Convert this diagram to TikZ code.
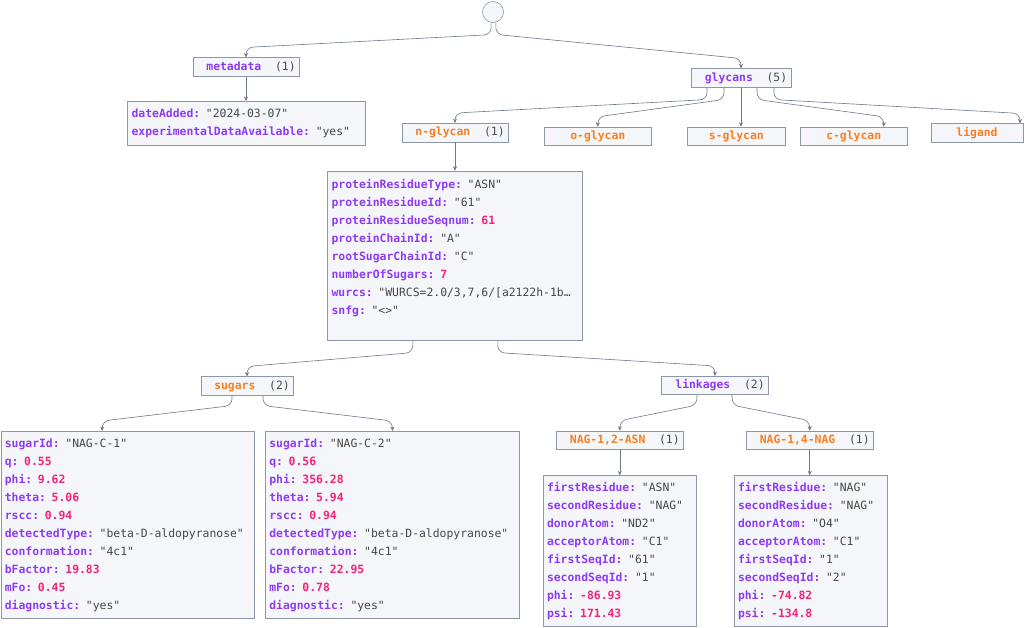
\documentclass[tikz,border=0pt]{standalone}
\usepackage{fontspec}
\setmonofont{DejaVu Sans Mono}
\usetikzlibrary{arrows.meta,positioning}

\definecolor{keyc}{HTML}{8E3BF2}
\definecolor{strc}{HTML}{474747}
\definecolor{numc}{HTML}{F2237A}
\definecolor{arrc}{HTML}{F77F21}
\definecolor{cntc}{HTML}{4A4A4A}
\definecolor{boxc}{HTML}{F4F6FA}
\definecolor{edgec}{HTML}{8D97A8}
\definecolor{linec}{HTML}{6E788C}

\newcommand{\strkey}[2]{\textcolor{keyc}{\bfseries #1:} \textcolor{strc}{"#2"}}
\newcommand{\numkey}[2]{\textcolor{keyc}{\bfseries #1:} \textcolor{numc}{\bfseries #2}}
\newcommand{\grouplabel}[3]{\hspace*{10pt}\textcolor{#1}{\bfseries #2}~~\textcolor{cntc}{(#3)}}

\tikzset{
  rootnode/.style={circle, draw=edgec, fill=boxc, minimum size=21pt, inner sep=0pt, line width=0.6pt},
  labelbox/.style={draw=edgec, fill=boxc, minimum height=18.5pt, inner sep=0pt, line width=0.6pt,
    text=arrc, font=\ttfamily\fontsize{11.4}{14}\selectfont},
  databox/.style={draw=edgec, fill=boxc, anchor=north west, align=left, inner xsep=4pt, inner ysep=0pt,
    line width=0.6pt, font=\ttfamily\fontsize{11.4}{18}\selectfont},
  link/.style={draw=linec, line width=0.6pt, rounded corners=7pt, -{Stealth[length=4.5pt, width=4pt]}}
}

\begin{document}
\begin{tikzpicture}[x=1pt, y=-1pt]
      \fill[white] (0,0) rectangle (1024,627);
      \useasboundingbox (0,0) rectangle (1024,627);

      % Nodes
      \node[rootnode] (root) at (493,12) {};
      \node[labelbox, minimum width=106pt] (metadata) at (246,67) {\grouplabel{keyc}{metadata}{1}};
      \node[labelbox, minimum width=100pt] (glycans) at (741,78) {\grouplabel{keyc}{glycans}{5}};
      \node[databox, text width=229.7pt, minimum height=44pt] (metainfo) at (127.3,101)
        {\strkey{dateAdded}{2024-03-07}\\ \strkey{experimentalDataAvailable}{yes}};

      \node[labelbox, minimum width=106pt] (nglycan) at (455,132.6) {\grouplabel{arrc}{n-glycan}{1}};
      \node[labelbox, minimum width=107.5pt] (oglycan) at (597.8,136.3) {\bfseries o-glycan};
      \node[labelbox, minimum width=98pt] (sglycan) at (736.3,136.3) {\bfseries s-glycan};
      \node[labelbox, minimum width=107.4pt] (cglycan) at (853.7,136.3) {\bfseries c-glycan};
      \node[labelbox, minimum width=91.6pt] (ligand) at (977,133) {\bfseries ligand};

      \node[databox, text width=246.4pt, minimum height=169.3pt] (ngdata) at (327.3,170.7)
        {\strkey{proteinResidueType}{ASN}\\
         \strkey{proteinResidueId}{61}\\
         \numkey{proteinResidueSeqnum}{61}\\
         \strkey{proteinChainId}{A}\\
         \strkey{rootSugarChainId}{C}\\
         \numkey{numberOfSugars}{7}\\
         \textcolor{keyc}{\bfseries wurcs:} \textcolor{strc}{"WURCS=2.0/3,7,6/[a2122h-1b…}\\
         \strkey{snfg}{<>}\\ \mbox{}};

      \node[labelbox, minimum width=92pt] (sugars) at (247,386) {\grouplabel{arrc}{sugars}{2}};
      \node[labelbox, minimum width=106.6pt] (linkages) at (715,385.5) {\grouplabel{keyc}{linkages}{2}};

      \node[databox, text width=245.8pt, minimum height=187.3pt] (sugarA) at (0.5,431)
        {\strkey{sugarId}{NAG-C-1}\\
         \numkey{q}{0.55}\\
         \numkey{phi}{9.62}\\
         \numkey{theta}{5.06}\\
         \numkey{rscc}{0.94}\\
         \strkey{detectedType}{beta-D-aldopyranose}\\
         \strkey{conformation}{4c1}\\
         \numkey{bFactor}{19.83}\\
         \numkey{mFo}{0.45}\\
         \strkey{diagnostic}{yes}};
      \node[databox, text width=246.3pt, minimum height=187.3pt] (sugarB) at (265,431)
        {\strkey{sugarId}{NAG-C-2}\\
         \numkey{q}{0.56}\\
         \numkey{phi}{356.28}\\
         \numkey{theta}{5.94}\\
         \numkey{rscc}{0.94}\\
         \strkey{detectedType}{beta-D-aldopyranose}\\
         \strkey{conformation}{4c1}\\
         \numkey{bFactor}{22.95}\\
         \numkey{mFo}{0.78}\\
         \strkey{diagnostic}{yes}};

      \node[labelbox, minimum width=127pt] (nagA) at (619.8,440.2) {\grouplabel{arrc}{NAG-1,2-ASN}{1}};
      \node[labelbox, minimum width=127.3pt] (nagB) at (809.7,440.2) {\grouplabel{arrc}{NAG-1,4-NAG}{1}};

      \node[databox, text width=145.3pt, minimum height=150.8pt] (nagAdata) at (542.7,475.3)
        {\strkey{firstResidue}{ASN}\\
         \strkey{secondResidue}{NAG}\\
         \strkey{donorAtom}{ND2}\\
         \strkey{acceptorAtom}{C1}\\
         \strkey{firstSeqId}{61}\\
         \strkey{secondSeqId}{1}\\
         \numkey{phi}{-86.93}\\
         \numkey{psi}{171.43}};
      \node[databox, text width=145.6pt, minimum height=150.8pt] (nagBdata) at (733.7,475.3)
        {\strkey{firstResidue}{NAG}\\
         \strkey{secondResidue}{NAG}\\
         \strkey{donorAtom}{O4}\\
         \strkey{acceptorAtom}{C1}\\
         \strkey{firstSeqId}{1}\\
         \strkey{secondSeqId}{2}\\
         \numkey{phi}{-74.82}\\
         \numkey{psi}{-134.8}};

      % Edges
      \draw[link] (root.260) -- ++(0,12) -- ([yshift=10pt]metadata.north) -- (metadata.north);
      \draw[link] (root.285) -- ++(0,12) -- ([yshift=10pt]glycans.north) -- (glycans.north);
      \draw[link] (metadata.south) -- (metadata.south |- metainfo.north);

      \draw[link] ([xshift=-34pt]glycans.south) -- ++(0,12) -- ([yshift=10pt]nglycan.north) -- (nglycan.north);
      \draw[link] ([xshift=-17pt]glycans.south) -- ++(0,12) -- ([yshift=10pt]oglycan.north) -- (oglycan.north);
      \draw[link] (glycans.south) -- (glycans.south |- sglycan.north);
      \draw[link] ([xshift=16pt]glycans.south) -- ++(0,12) -- ([xshift=30pt,yshift=10pt]cglycan.north) -- ([xshift=30pt]cglycan.north);
      \draw[link] ([xshift=33pt]glycans.south) -- ++(0,12) -- ([xshift=43pt,yshift=10pt]ligand.north) -- ([xshift=43pt]ligand.north);
      \draw[link] (nglycan.south) -- (nglycan.south |- ngdata.north);

      \draw[link] ([xshift=-42pt]ngdata.south) -- ++(0,12) -- ([yshift=10pt]sugars.north) -- (sugars.north);
      \draw[link] ([xshift=43pt]ngdata.south) -- ++(0,12) -- ([yshift=10pt]linkages.north) -- (linkages.north);

      \draw[link] ([xshift=-15pt]sugars.south) -- ++(0,10) -- ([xshift=-25.5pt,yshift=10pt]sugarA.north) -- ([xshift=-25.5pt]sugarA.north);
      \draw[link] ([xshift=16pt]sugars.south) -- ++(0,10) -- ([yshift=10pt]sugarB.north) -- (sugarB.north);
      \draw[link] ([xshift=-18pt]linkages.south) -- ++(0,10) -- ([yshift=10pt]nagA.north) -- (nagA.north);
      \draw[link] ([xshift=17pt]linkages.south) -- ++(0,10) -- ([yshift=10pt]nagB.north) -- (nagB.north);
      \draw[link] (nagA.south) -- (nagA.south |- nagAdata.north);
      \draw[link] (nagB.south) -- (nagB.south |- nagBdata.north);
\end{tikzpicture}
\end{document}
